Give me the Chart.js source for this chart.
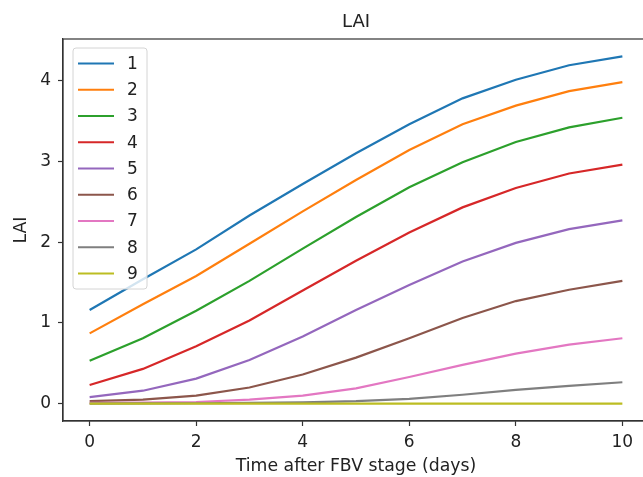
<!DOCTYPE html>
<html>
<head>
<meta charset="utf-8">
<script src="https://cdn.jsdelivr.net/npm/chart.js@4/dist/chart.umd.min.js"></script>
<style>
    html, body { margin: 0; padding: 0; background: #fff; overflow: hidden; }
    #wrap { width: 660px; height: 477px; }
</style>
</head>
<body>
<div id="wrap"><canvas id="laiChart" width="660" height="477"></canvas></div>
<script>
// Days after FBV stage
const days = [0, 1, 2, 3, 4, 5, 6, 7, 8, 9, 10];

// LAI per treatment
const lai1 = [1.16, 1.54, 1.91, 2.33, 2.72, 3.10, 3.46, 3.78, 4.01, 4.19, 4.30];
const lai2 = [0.87, 1.23, 1.58, 1.98, 2.38, 2.77, 3.14, 3.46, 3.69, 3.87, 3.98];
const lai3 = [0.53, 0.81, 1.15, 1.52, 1.92, 2.31, 2.68, 2.99, 3.24, 3.42, 3.54];
const lai4 = [0.23, 0.43, 0.71, 1.03, 1.40, 1.77, 2.12, 2.43, 2.67, 2.85, 2.96];
const lai5 = [0.08, 0.16, 0.31, 0.54, 0.83, 1.16, 1.47, 1.76, 1.99, 2.16, 2.27];
const lai6 = [0.03, 0.05, 0.10, 0.20, 0.36, 0.57, 0.81, 1.06, 1.27, 1.41, 1.52];
const lai7 = [0.01, 0.012, 0.02, 0.05, 0.10, 0.19, 0.33, 0.48, 0.62, 0.73, 0.81];
const lai8 = [0.0, 0.002, 0.005, 0.01, 0.015, 0.03, 0.06, 0.11, 0.17, 0.22, 0.265];
const lai9 = [0.0, 0.0, 0.0, 0.0, 0.0, 0.0, 0.0, 0.0, 0.0, 0.0, 0.0];

const seriesNames = ['1', '2', '3', '4', '5', '6', '7', '8', '9'];
const seriesValues = [lai1, lai2, lai3, lai4, lai5, lai6, lai7, lai8, lai9];
const xTicks = [0, 2, 4, 6, 8, 10];
const yTicks = [0, 1, 2, 3, 4];

const colors = ['#1f77b4', '#ff7f0e', '#2ca02c', '#d62728', '#9467bd',
                '#8c564b', '#e377c2', '#7f7f7f', '#bcbd22'];
const textColor = '#222';
const axisColor = '#333';
const fontFamily = "'DejaVu Sans', sans-serif";

// matplotlib-like full frame around the plot area, plus the title centred on the axes
const framePlugin = {
    id: 'frame',
    afterDraw(chart) {
        const { ctx, chartArea: a } = chart;
        ctx.save();
        ctx.strokeStyle = axisColor;
        ctx.lineWidth = 1.2;
        ctx.strokeRect(a.left, a.top, a.right - a.left, a.bottom - a.top);

        ctx.fillStyle = textColor;
        ctx.font = '18px ' + fontFamily;
        ctx.textAlign = 'center';
        ctx.textBaseline = 'middle';
        ctx.fillText('LAI', (a.left + a.right) / 2, 22);
        ctx.restore();
    }
};

// legend box in the upper left corner, like plt.legend()
const legendPlugin = {
    id: 'boxLegend',
    afterDraw(chart) {
        const ctx = chart.ctx;
        const x0 = 73, y0 = 48, w = 74, h = 241, r = 3;
        ctx.save();
        ctx.beginPath();
        ctx.moveTo(x0 + r, y0);
        ctx.arcTo(x0 + w, y0, x0 + w, y0 + h, r);
        ctx.arcTo(x0 + w, y0 + h, x0, y0 + h, r);
        ctx.arcTo(x0, y0 + h, x0, y0, r);
        ctx.arcTo(x0, y0, x0 + w, y0, r);
        ctx.closePath();
        ctx.fillStyle = 'rgba(255,255,255,0.8)';
        ctx.fill();
        ctx.strokeStyle = '#d4d4d4';
        ctx.lineWidth = 1;
        ctx.stroke();

        ctx.font = '17px ' + fontFamily;
        ctx.textBaseline = 'middle';
        ctx.textAlign = 'left';
        chart.data.datasets.forEach((ds, i) => {
            const y = 63.5 + i * 26.25;
            ctx.strokeStyle = ds.borderColor;
            ctx.lineWidth = 2.2;
            ctx.beginPath();
            ctx.moveTo(78, y);
            ctx.lineTo(114, y);
            ctx.stroke();
            ctx.fillStyle = textColor;
            ctx.fillText(ds.label, 127, y + 1);
        });
        ctx.restore();
    }
};

const datasets = seriesNames.map((name, i) => ({
    label: name,
    data: days.map((d, j) => ({ x: d, y: seriesValues[i][j] })),
    borderColor: colors[i],
    backgroundColor: colors[i],
    borderWidth: 2.2,
    pointRadius: 0,
    tension: 0,
    fill: false,
    order: seriesNames.length - i
}));

const ctx = document.getElementById('laiChart').getContext('2d');
const laiChart = new Chart(ctx, {
    type: 'line',
    data: { datasets: datasets },
    plugins: [framePlugin, legendPlugin],
    options: {
        responsive: false,
        animation: false,
        layout: { padding: { left: 0, right: 11, top: 39, bottom: 0 } },
        plugins: {
            legend: { display: false },
            tooltip: { enabled: false },
            title: { display: false }
        },
        scales: {
            x: {
                type: 'linear',
                min: -0.5,
                max: 10.5,
                afterBuildTicks: (scale) => { scale.ticks = xTicks.map(v => ({ value: v })); },
                afterFit: (scale) => { scale.height = 56; },
                grid: { drawOnChartArea: false, tickLength: 5, tickColor: axisColor, tickWidth: 1.2 },
                border: { display: true, color: axisColor, width: 1.2 },
                ticks: { color: textColor, padding: 6, maxRotation: 0,
                         font: { family: fontFamily, size: 17, lineHeight: 1.2 } },
                title: {
                    display: true,
                    text: 'Time after FBV stage (days)',
                    color: textColor,
                    font: { family: fontFamily, size: 17.3, lineHeight: 1.2 },
                    padding: { top: 0, bottom: 0 }
                }
            },
            y: {
                type: 'linear',
                min: -0.215,
                max: 4.515,
                afterBuildTicks: (scale) => { scale.ticks = yTicks.map(v => ({ value: v })); },
                afterFit: (scale) => { scale.width = 63; },
                grid: { drawOnChartArea: false, tickLength: 5, tickColor: axisColor, tickWidth: 1.2 },
                border: { display: true, color: axisColor, width: 1.2 },
                ticks: { color: textColor, padding: 7,
                         font: { family: fontFamily, size: 17 } },
                title: {
                    display: true,
                    text: 'LAI',
                    color: textColor,
                    font: { family: fontFamily, size: 17.3, lineHeight: 1.2 },
                    padding: { top: 11, bottom: 0 }
                }
            }
        }
    }
});
</script>
</body>
</html>
